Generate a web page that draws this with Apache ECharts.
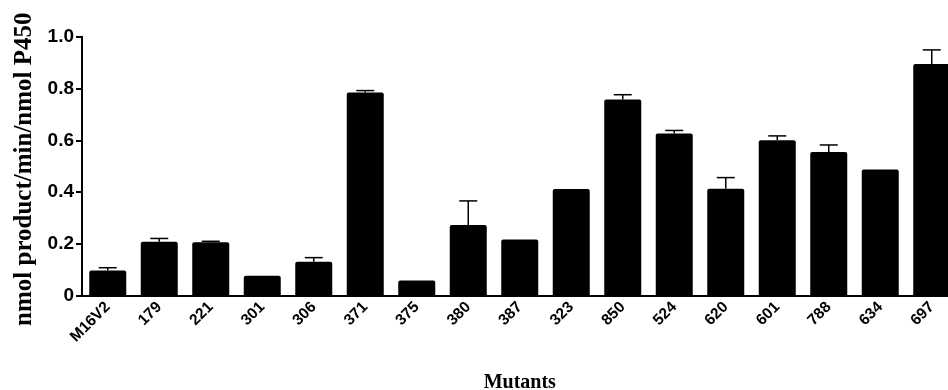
<!DOCTYPE html>
<html>
<head>
<meta charset="utf-8">
<script src="https://cdn.jsdelivr.net/npm/echarts@6/dist/echarts.min.js"></script>
<style>
html,body{margin:0;padding:0;background:#fff;}
#chart{width:948px;height:390px;}
</style>
</head>
<body>
<div id="chart"></div>
<script>
const categories = ['M16V2','179','221','301','306','371','375','380','387','323','850','524','620','601','788','634','697'];
const values = [0.097,0.208,0.206,0.077,0.131,0.785,0.059,0.273,0.217,0.412,0.758,0.626,0.413,0.600,0.555,0.487,0.895];
const errors = [0.011,0.013,0.004,0,0.016,0.007,0,0.093,0,0,0.018,0.012,0.043,0.017,0.027,0,0.054];
const yTicks = [0,0.2,0.4,0.6,0.8,1.0];

const chart = echarts.init(document.getElementById('chart'), null, {renderer:'canvas'});
const errData = values.map((v,i)=>[i, v, v+errors[i]]);

chart.setOption({
  animation:false,
  backgroundColor:'#fff',
  grid:{left:82, top:36.7, bottom:94.3, right:-9.5, containLabel:false, outerBoundsMode:'none'},
  xAxis:{
    type:'category',
    data:categories,
    boundaryGap:true,
    name:'Mutants',
    nameLocation:'middle',
    nameGap:77,
    nameTextStyle:{fontFamily:'Liberation Serif', fontWeight:'bold', fontSize:20, color:'#000'},
    axisLine:{lineStyle:{color:'#000', width:2}},
    axisTick:{alignWithLabel:true, length:6, lineStyle:{color:'#000', width:2}},
    axisLabel:{rotate:45, margin:9, fontFamily:'Liberation Sans', fontWeight:'bold', fontSize:15.5, color:'#000', interval:0}
  },
  yAxis:{
    type:'value',
    min:0, max:1.0, interval:0.2,
    name:'nmol product/min/nmol P450',
    nameLocation:'middle',
    nameGap:44,
    nameTextStyle:{fontFamily:'Liberation Serif', fontWeight:'bold', fontSize:25, color:'#000', padding:[0,6,0,0]},
    axisLine:{show:true, lineStyle:{color:'#000', width:2}},
    axisTick:{show:true, length:6, lineStyle:{color:'#000', width:2}},
    splitLine:{show:false},
    axisLabel:{margin:8, fontFamily:'Liberation Sans', fontWeight:'bold', fontSize:19, color:'#000',
      formatter:function(v){ return v===0 ? '0' : v.toFixed(1); }}
  },
  series:[
    {
      type:'bar',
      data:values,
      barWidth:37,
      itemStyle:{color:'#000', borderRadius:[2,2,0,0]},
      z:2
    },
    {
      type:'custom',
      data:errData,
      z:3,
      renderItem:function(params, api){
        const i = api.value(0);
        const lo = api.coord([i, api.value(1)]);
        const hi = api.coord([i, api.value(2)]);
        if (hi[1] >= lo[1] - 0.5) return null;
        const hw = 9;
        return {
          type:'group',
          children:[
            {type:'line', shape:{x1:lo[0], y1:lo[1], x2:hi[0], y2:hi[1]}, style:{stroke:'#000', lineWidth:1.5}},
            {type:'line', shape:{x1:hi[0]-hw, y1:hi[1], x2:hi[0]+hw, y2:hi[1]}, style:{stroke:'#000', lineWidth:1.5}}
          ]
        };
      }
    }
  ]
});
</script>
</body>
</html>
